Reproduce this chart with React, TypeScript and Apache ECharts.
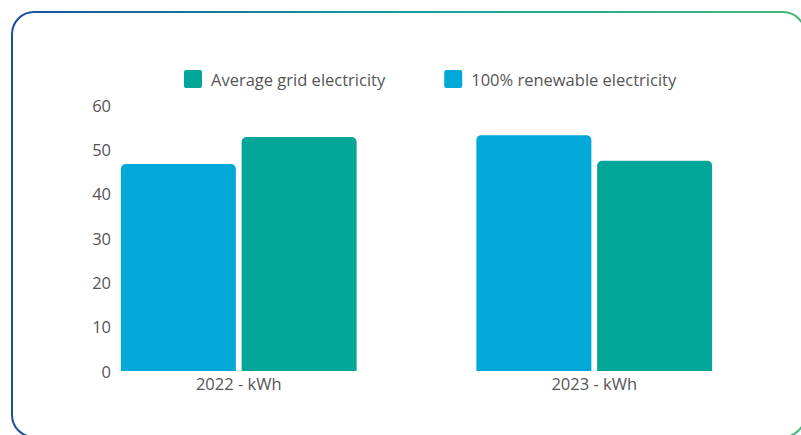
import React, { useEffect, useRef } from "react";
import * as echarts from "echarts";

const categories = ["2022 - kWh", "2023 - kWh"];
const renewableValues = [46.7, 53.2];
const gridValues = [52.8, 47.4];
const seriesNames = ["Average grid electricity", "100% renewable electricity"];
const yMin = 0;
const yMax = 60;
const yInterval = 10;

export default function App() {
  const ref = useRef<HTMLDivElement>(null);
  useEffect(() => {
    document.body.style.margin = "0";
    const chart = echarts.init(ref.current!, null, { renderer: "svg" });
    const font = "'Open Sans', sans-serif";
    chart.setOption({
      animation: false,
      graphic: [
        {
          type: "rect",
          shape: { x: 12, y: 12, width: 793, height: 425, r: 22 },
          style: {
            fill: "none",
            lineWidth: 2,
            stroke: new echarts.graphic.LinearGradient(0, 0, 1, 0, [
              { offset: 0, color: "#1C4E9F" },
              { offset: 0.5, color: "#0EA19C" },
              { offset: 1, color: "#47B779" },
            ]),
          },
          silent: true,
        },
      ],
      legend: {
        data: [seriesNames[0], seriesNames[1]],
        left: 179,
        top: 65,
        itemWidth: 18,
        itemHeight: 18,
        itemGap: 59,
        icon: "path://M2,0 H16 Q18,0 18,2 V16 Q18,18 16,18 H2 Q0,18 0,16 V2 Q0,0 2,0 Z",
        textStyle: { fontSize: 16.5, color: "#555", fontFamily: font, padding: [0, 0, 0, 4] },
      },
      grid: { left: 61, right: 29, top: 105, bottom: 64 },
      xAxis: {
        type: "category",
        data: categories,
        axisLine: { show: false },
        axisTick: { show: false },
        axisLabel: { color: "#555", fontSize: 16.5, margin: 4, fontFamily: font },
      },
      yAxis: {
        type: "value",
        min: yMin,
        max: yMax,
        interval: yInterval,
        offset: -58,
        splitLine: { show: false },
        axisLine: { show: false },
        axisTick: { show: false },
        axisLabel: { color: "#555", fontSize: 16.5, margin: 8, fontFamily: font },
      },
      series: [
        {
          name: seriesNames[1],
          type: "bar",
          data: renewableValues,
          barWidth: 115,
          barGap: "5%",
          itemStyle: { color: "#02A9D8", borderRadius: [5, 5, 0, 0] },
        },
        {
          name: seriesNames[0],
          type: "bar",
          data: gridValues,
          barWidth: 115,
          barGap: "5%",
          itemStyle: { color: "#02A79A", borderRadius: [5, 5, 0, 0] },
        },
      ],
    });
    return () => chart.dispose();
  }, []);
  return <div ref={ref} style={{ width: 801, height: 435 }} />;
}
